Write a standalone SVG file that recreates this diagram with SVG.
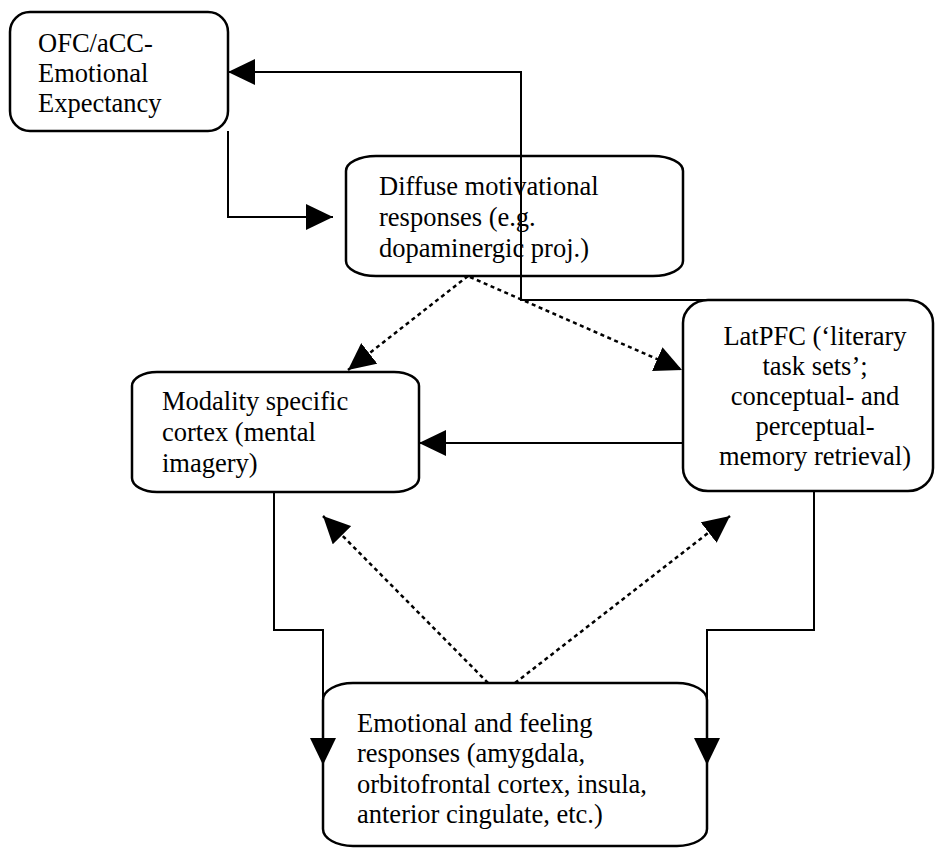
<svg xmlns="http://www.w3.org/2000/svg" width="936" height="848" viewBox="0 0 936 848">
<style>
.box{fill:#fff;stroke:#000;stroke-width:2.5}
.t{font-family:"Liberation Serif","Times New Roman",serif;font-size:26.5px;fill:#000}
.ln{fill:none;stroke:#000;stroke-width:2}
.dot{fill:none;stroke:#000;stroke-width:2.5;stroke-dasharray:4 3.5}
</style>
<defs>
<marker id="ah" viewBox="0 0 27 26" refX="27" refY="13" markerWidth="27" markerHeight="26" markerUnits="userSpaceOnUse" orient="auto">
<path d="M0,0 L27,13 L0,26 z" fill="#000" stroke="none"/>
</marker>
</defs>
<rect width="936" height="848" fill="#fff"/>
<g id="ofc">
<rect class="box" x="10" y="12" width="218" height="119" rx="20" ry="20"/>
<text class="t" x="38" y="52">OFC/aCC-</text>
<text class="t" x="38" y="82">Emotional</text>
<text class="t" x="38" y="112">Expectancy</text>
</g>
<g id="diffuse">
<rect class="box" x="346" y="156" width="337" height="120" rx="30" ry="15"/>
<text class="t" x="379" y="195">Diffuse motivational</text>
<text class="t" x="379" y="226">responses (e.g.</text>
<text class="t" x="379" y="257">dopaminergic proj.)</text>
</g>
<g id="modality">
<rect class="box" x="132" y="372" width="287" height="120" rx="25" ry="14"/>
<text class="t" x="162" y="410">Modality specific</text>
<text class="t" x="162" y="441">cortex (mental</text>
<text class="t" x="162" y="472">imagery)</text>
</g>
<g id="latpfc">
<rect class="box" x="683" y="300" width="250" height="191" rx="25" ry="23"/>
<text class="t" x="815" y="345" text-anchor="middle">LatPFC (‘literary</text>
<text class="t" x="815" y="375" text-anchor="middle">task sets’;</text>
<text class="t" x="815" y="405" text-anchor="middle">conceptual- and</text>
<text class="t" x="815" y="435" text-anchor="middle">perceptual-</text>
<text class="t" x="815" y="465" text-anchor="middle">memory retrieval)</text>
</g>
<g id="emotional">
<rect class="box" x="323" y="683" width="384" height="163" rx="30" ry="17"/>
<text class="t" x="357" y="732">Emotional and feeling</text>
<text class="t" x="357" y="762">responses (amygdala,</text>
<text class="t" x="357" y="793">orbitofrontal cortex, insula,</text>
<text class="t" x="357" y="823">anterior cingulate, etc.)</text>
</g>
<g id="connectors">
<path class="ln" d="M228,131 V217 H333" marker-end="url(#ah)"/>
<path class="ln" d="M720,300 H521 V72 H228" marker-end="url(#ah)"/>
<path class="ln" d="M683,443 H419" marker-end="url(#ah)"/>
<path class="ln" d="M274,492 V630 H323 V765" marker-end="url(#ah)"/>
<path class="ln" d="M814,491 V630 H707 V765" marker-end="url(#ah)"/>
<path class="dot" d="M468,276 L348,370" marker-end="url(#ah)"/>
<path class="dot" d="M470,277 L682,370" marker-end="url(#ah)"/>
<path class="dot" d="M488,683 L323,516" marker-end="url(#ah)"/>
<path class="dot" d="M515,683 L730,516" marker-end="url(#ah)"/>
</g>
</svg>
